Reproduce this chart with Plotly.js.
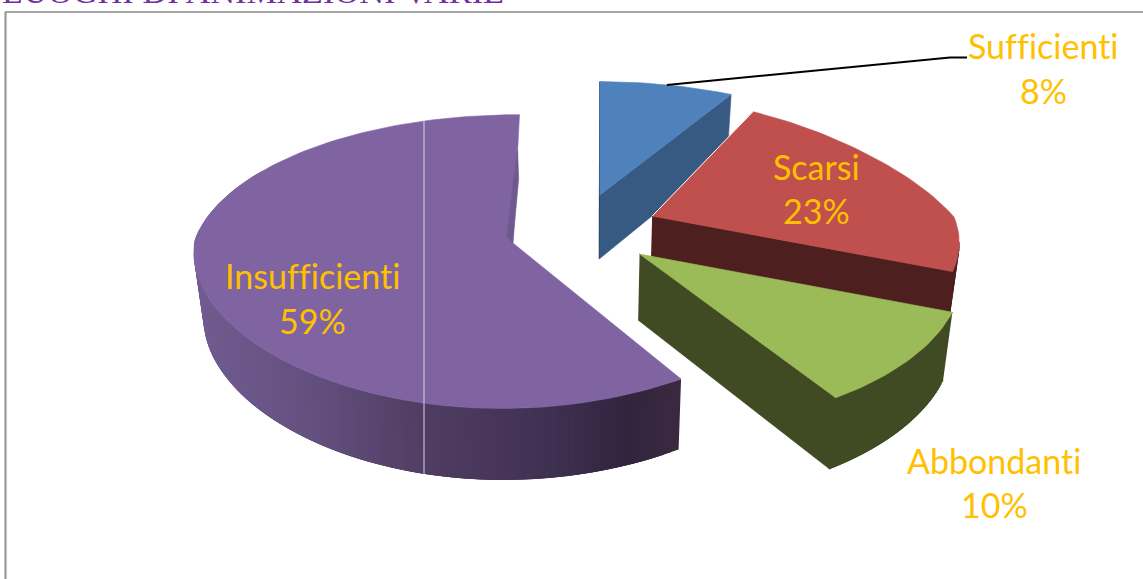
<!DOCTYPE html>
<html>
<head>
<meta charset="utf-8">
<script src="https://cdn.plot.ly/plotly-3.0.1.min.js"></script>
<style>
html,body{margin:0;padding:0;background:#fff;overflow:hidden}
text{font-variant-ligatures:none !important;font-feature-settings:"liga" 0,"clig" 0 !important}
</style>
</head>
<body>
<div id="chart" style="width:1143px;height:579px"></div>
<script>
// Quality ratings for the entertainment venues, clockwise from twelve o'clock
const categories = ["Sufficienti", "Scarsi", "Abbondanti", "Insufficienti"];
const values = [8, 23, 10, 59];
const chartTitle = "LUOGHI DI ANIMAZIONI VARIE";

const topColors = ["#4f81bd", "#c0504d", "#9bbb59", "#8064a2"];
const wallColors = ["#375a82", "#4e1f1f", "#404a23", "#6f5a8f"];
const labelColor = "#ffc000";
const labelFont = "Lato, 'Open Sans', sans-serif";
const labelSize = 34;

// Where each two-line label sits: horizontal centre and the middle of each line
const labelSpots = [[1043, 45, 90], [816, 166, 210], [994, 460, 504], [312, 275, 320]];

// Projection of the tilted disc
const cx = 582, cy = 229, radius = 319, radiusY = 140.3;
const perspective = 0.1525, explode = 0.226, explodeY = 0.26, startAngle = 0.5;
const step = 1.5;
// Per-slice horizontal lens correction: base factor, near-side slope, far-side slope, far-side shear
const lens = [[1, 0, 0, 0], [0.959, 0, 0.2, 0], [0.974, -0.0375, 0, 0], [0.985, -0.092, 0, 5]];
// Per-slice nudge of the slice tip
const tipNudge = [[0, 0], [3, -1], [1, 1], [1, 4]];

function project(u, v) {
  const s = 1 / (1 - perspective * v);
  return [cx + radius * u * s, cy + radiusY * v * s];
}
// The lower face of the slab sits lower and slightly narrower
function drop(p) {
  return [cx + (p[0] - cx) * 0.975, cy + (p[1] - cy) * 1.036 + 65];
}
const rad = d => d * Math.PI / 180;

const total = values.reduce((a, b) => a + b, 0);
let running = startAngle;
const slices = values.map((val, idx) => {
  const from = running, to = running + val / total * 360;
  running = to;
  const mid = (from + to) / 2;
  const ou = explode * Math.sin(rad(mid)), ov = -explodeY * Math.cos(rad(mid));
  const tip = project(ou, ov);
  const apex = [tip[0] + tipNudge[idx][0], tip[1] + tipNudge[idx][1]];
  const [base, near, far, shear] = lens[idx];
  const at = a => {
    const v = -Math.cos(rad(a));
    const p = project(ou + Math.sin(rad(a)), ov + v);
    const f = base + (v > 0 ? near : far) * v;
    const skew = v < 0 ? shear * v : 0;
    return [apex[0] + (p[0] - tip[0]) * f + skew, p[1]];
  };
  const rim = [];
  const n = Math.ceil((to - from) / step);
  for (let i = 0; i <= n; i++) rim.push(at(from + (to - from) * i / n));
  return { from, to, mid, at, rim, apex };
});

const traces = [];
function poly(points, color, edge) {
  traces.push({
    type: "scatter", mode: "lines", fill: "toself", fillcolor: color,
    x: points.map(p => p[0]), y: points.map(p => p[1]),
    line: { color: color, width: edge === undefined ? 0.6 : edge }, hoverinfo: "skip", showlegend: false
  });
}
function stroke(points, color, width) {
  traces.push({
    type: "scatter", mode: "lines",
    x: points.map(p => p[0]), y: points.map(p => p[1]),
    line: { color: color, width: width }, hoverinfo: "skip", showlegend: false
  });
}
function wall(line) {
  return line.concat(line.map(drop).reverse());
}
function face(s) {
  return [s.apex].concat(s.rim, [s.apex]);
}
// Outer wall as a stack of short overlapping quads, only from the widest rim point
// onward since the part behind it is hidden, then the straight cut wall
function slabSides(s, color) {
  const xs = s.rim.map(p => p[0]);
  const first = xs.indexOf(Math.max(...xs));
  for (let i = first; i + 1 < s.rim.length; i++) {
    poly(wall(s.rim.slice(i, Math.min(i + 3, s.rim.length))), color, 0.8);
  }
  poly(wall([s.apex, s.rim[s.rim.length - 1]]), color, 0.8);
}

// Sufficienti: thin dark side, cut wall, then the top
const blue = slices[0];
stroke([blue.rim[0], blue.apex, drop(blue.apex)], "#24405f", 1.4);
poly(wall([blue.apex, blue.rim[blue.rim.length - 1]]), wallColors[0]);
poly(face(blue), topColors[0]);

// Scarsi
const red = slices[1];
slabSides(red, wallColors[1]);
poly(face(red), topColors[1]);
stroke([red.apex, red.rim[0]], "#ffffff", 1);

// Abbondanti
const green = slices[2];
slabSides(green, wallColors[2]);
poly(face(green), topColors[2]);

// Insufficienti: the outer wall darkens from left to right
const purple = slices[3];
const shadeStops = [[195, [112, 91, 144]], [300, [101, 81, 128]], [424, [80, 61, 98]],
                    [550, [63, 48, 82]], [625, [50, 36, 62]], [680, [57, 41, 64]]];
function shade(x) {
  for (let i = 1; i < shadeStops.length; i++) {
    if (x <= shadeStops[i][0]) {
      const a = shadeStops[i - 1], b = shadeStops[i];
      const t = Math.max(0, (x - a[0]) / (b[0] - a[0]));
      const c = a[1].map((v, k) => Math.round(v + (b[1][k] - v) * t));
      return `rgb(${c.join(",")})`;
    }
  }
  return `rgb(${shadeStops[shadeStops.length - 1][1].join(",")})`;
}
// Bands overlap the next ones so no hairlines show between them
const wallEnd = purple.rim.findIndex((p, i) => purple.from + i * step >= 300);
for (let i = 0; i < wallEnd; i++) {
  const strip = purple.rim.slice(i, Math.min(i + 4, wallEnd + 1));
  poly(wall(strip), shade((purple.rim[i][0] + purple.rim[i + 1][0]) / 2), 0);
}
poly(face(purple), topColors[3]);

// Narrow shaded sliver along the inner cut of the large slice
const lastRim = purple.rim[purple.rim.length - 1];
const along = t => [purple.apex[0] + (lastRim[0] - purple.apex[0]) * t,
                    purple.apex[1] + (lastRim[1] - purple.apex[1]) * t];
const sliverTip = along(0.72), sliverMid = along(0.5);
poly([purple.apex, [sliverMid[0] + 2.5, sliverMid[1]], sliverTip,
      [sliverMid[0] - 2.5, sliverMid[1]], [purple.apex[0] - 6, purple.apex[1] - 6]], wallColors[3]);

// Pale vertical seam across the big slice
const seamX = 424;
const backArc = purple.rim.filter(p => p[1] < cy);
const frontArc = purple.rim.filter(p => p[1] >= cy).map(drop);
function crossing(line) {
  for (let i = 1; i < line.length; i++) {
    const a = line[i - 1], b = line[i];
    if ((a[0] - seamX) * (b[0] - seamX) <= 0) {
      return a[1] + (b[1] - a[1]) * (seamX - a[0]) / (b[0] - a[0]);
    }
  }
  return cy;
}
stroke([[seamX, crossing(backArc)], [seamX, crossing(frontArc)]], "#d9d2e6", 1);

// Leader from the small slice to its label
const leaderStart = blue.at((blue.from + blue.to) / 2);
stroke([leaderStart, [950, 57.5], [967, 57.5]], "#000000", 2);

const annotations = [];
categories.forEach((name, i) => {
  const [x, y1, y2] = labelSpots[i];
  [[name, y1], [values[i] + "%", y2]].forEach(([text, y]) => annotations.push({
    x: x, y: y, xref: "x", yref: "y", text: text, showarrow: false,
    xanchor: "center", yanchor: "middle",
    font: { family: labelFont, size: labelSize, color: labelColor }
  }));
});
annotations.push({
  x: 2, y: 10, xref: "x", yref: "y", text: chartTitle, showarrow: false,
  xanchor: "left", yanchor: "bottom", borderpad: 0, borderwidth: 0,
  font: { family: "'Liberation Serif', serif", size: 34.4, color: "#7030a0" }
});

const layout = {
  width: 1143, height: 579, margin: { l: 0, r: 0, t: 0, b: 0 },
  paper_bgcolor: "#ffffff", plot_bgcolor: "#ffffff",
  xaxis: { range: [0, 1143], visible: false, fixedrange: true },
  yaxis: { range: [579, 0], visible: false, fixedrange: true },
  showlegend: false, annotations: annotations,
  shapes: [
    { type: "line", xref: "x", yref: "y", x0: 5, x1: 1143, y0: 12, y1: 12, line: { color: "#8a8a8a", width: 1.5 } },
    { type: "line", xref: "x", yref: "y", x0: 5.5, x1: 5.5, y0: 12, y1: 579, line: { color: "#9a9a9a", width: 2.2 } }
  ]
};
Plotly.newPlot("chart", traces, layout, { displayModeBar: false, staticPlot: true });
</script>
</body>
</html>
